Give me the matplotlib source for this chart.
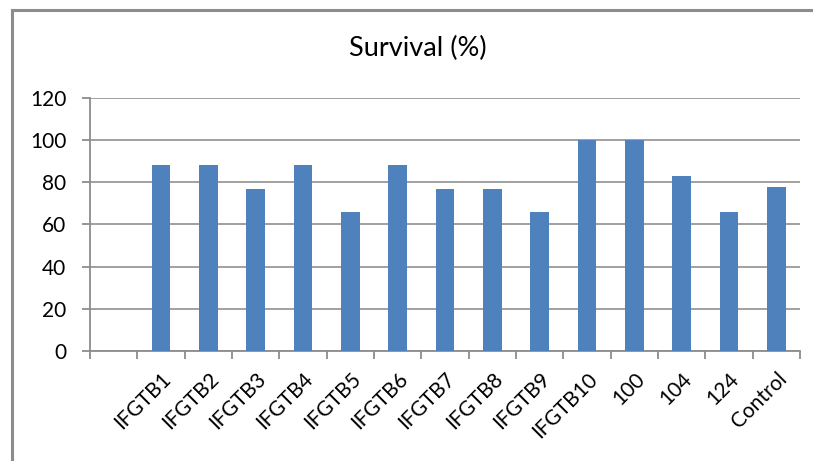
import matplotlib
matplotlib.use("Agg")
import matplotlib.pyplot as plt
from matplotlib.lines import Line2D
import numpy as np

categories = ["IFGTB1", "IFGTB2", "IFGTB3", "IFGTB4", "IFGTB5", "IFGTB6", "IFGTB7",
              "IFGTB8", "IFGTB9", "IFGTB10", "100", "104", "124", "Control"]
survival = [88, 88, 77, 88, 66, 88, 77, 77, 66, 100, 100, 83, 66, 78]
y_ticks = [0, 20, 40, 60, 80, 100, 120]

plt.rcParams["font.family"] = ["Lato", "DejaVu Sans"]

W, H = 813, 461
fig = plt.figure(figsize=(W / 100, H / 100), dpi=100)

# chart frame (top and left edges visible)
grey = "#8c8c8c"
fig.add_artist(Line2D([12 / W, 1.0], [1 - 10 / H, 1 - 10 / H], color=grey, lw=2.2,
                      transform=fig.transFigure))
fig.add_artist(Line2D([12 / W, 12 / W], [0.0, 1 - 10 / H], color=grey, lw=2.2,
                      transform=fig.transFigure))

ax = fig.add_axes([90 / W, (H - 351) / H, 710 / W, 253 / H])

# first category slot is left empty
x = np.arange(1, len(categories) + 1)
ax.bar(x, survival, width=0.4, color="#4f81bd", zorder=3)

ax.set_xlim(-0.5, len(categories) + 0.5)
ax.set_ylim(0, 120)
ax.set_yticks(y_ticks)
ax.yaxis.grid(True, color="#868686", lw=1.1, zorder=0)

ax.set_xticks(np.arange(-0.5, len(categories) + 1.0, 1.0))
ax.set_xticklabels([])
ax.set_xticks(np.concatenate([[0], x]), minor=True)
ax.set_xticklabels([""] + categories, minor=True, rotation=45,
                   ha="right", va="top", rotation_mode="anchor", fontsize=15)
ax.tick_params(axis="x", which="minor", length=0, pad=13)
ax.tick_params(axis="x", which="major", length=6, width=1.3, color=grey)
ax.tick_params(axis="y", length=6, width=1.3, color=grey, labelsize=15, pad=11)

for side in ("top", "right"):
    ax.spines[side].set_visible(False)
for side in ("left", "bottom"):
    ax.spines[side].set_color(grey)
    ax.spines[side].set_linewidth(1.3)

fig.text(418 / W, 1 - 48 / H, "Survival (%)", ha="center", va="center", fontsize=19.5)

fig.savefig("out.png", dpi=100)
